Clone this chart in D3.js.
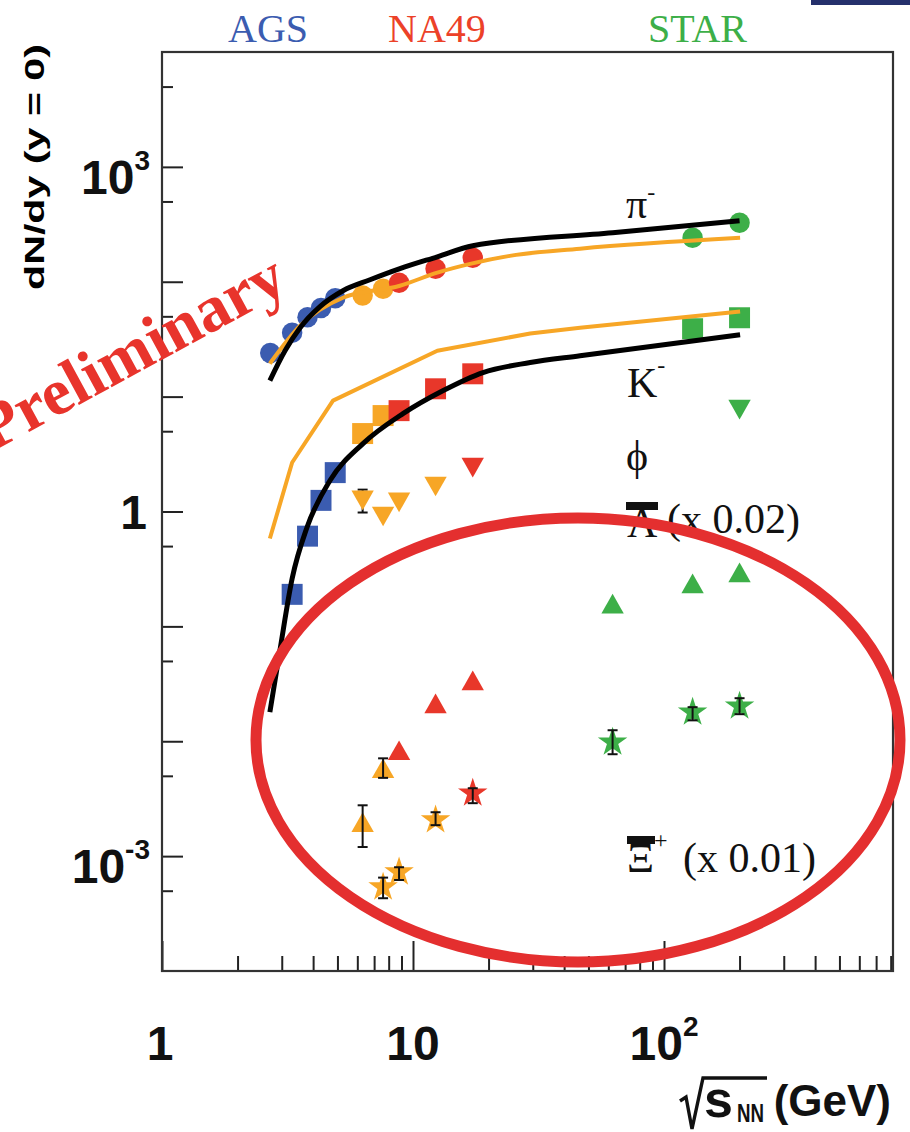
<!DOCTYPE html>
<html>
<head>
<meta charset="utf-8">
<script src="https://cdn.jsdelivr.net/npm/d3@7"></script>
<style>
  html, body { margin: 0; padding: 0; background: #fff; }
  svg { display: block; }
</style>
</head>
<body>
<svg id="chart" width="910" height="1132"></svg>
<script>
// ---- collision energies (sqrt(s_NN), GeV) ----
const snnAGS    = [2.7, 3.3, 3.8, 4.3, 4.9];
const snnAGSk   = [3.3, 3.8, 4.3, 4.9];
const snnNA49lo = [6.3, 7.6];
const snnNA49   = [8.8, 12.3, 17.3];
const snnSTAR   = [62.4, 130, 200];

// ---- pi- ----
const piAGS     = [24, 36, 49, 59, 72];
const piNA49lo  = [76, 87];
const piNA49    = [98, 130, 162];
const piSTARe   = [130, 200];
const piSTAR    = [241, 326];

// ---- K- ----
const kAGS      = [0.19, 0.61, 1.25, 2.18];
const kNA49lo   = [4.77, 6.84];
const kNA49     = [7.55, 11.7, 15.8];
const kSTARe    = [130, 200];
const kSTAR     = [39, 48.6];

// ---- phi ----
const phiNA49loE = [6.3, 7.6, 8.8, 12.3];
const phiNA49lo  = [1.25, 0.905, 1.20, 1.65];
const phiNA49E   = [17.3];
const phiNA49    = [2.41];
const phiSTARe   = [200];
const phiSTAR    = [7.7];

// ---- anti-Lambda (x 0.02) ----
const lamNA49lo = [1.98e-3, 5.82e-3];
const lamNA49   = [8.35e-3, 0.0214, 0.0339];
const lamSTAR   = [0.158, 0.237, 0.295];

// ---- anti-Xi+ (x 0.01) ----
const xiNA49loE = [7.6, 8.8, 12.3];
const xiNA49lo  = [5.37e-4, 7.26e-4, 2.06e-3];
const xiNA49E   = [17.3];
const xiNA49    = [3.53e-3];
const xiSTAR    = [9.8e-3, 0.0179, 0.0202];

// ---- error bars: [sqrt(s), low, high] ----
const errBarsUnder = [
  [6.3, 0.98, 1.55]
];
const errBars = [
  [6.3, 1.20e-3, 2.77e-3],
  [7.6, 4.8e-3, 7.1e-3],
  [7.6, 4.3e-4, 6.5e-4],
  [8.8, 6.2e-4, 8.0e-4],
  [12.3, 1.86e-3, 2.41e-3],
  [17.3, 2.89e-3, 3.90e-3],
  [62.4, 7.71e-3, 0.01247],
  [130, 0.0152, 0.0198],
  [200, 0.0172, 0.0237]
];

// ---- model curves ----
const piModelBlackE  = [2.69, 3.09, 3.55, 4.26, 5.26, 6.74, 8.87, 12.5, 17.3, 62.4, 200];
const piModelBlack   = [13.8, 25.1, 39.8, 60.7, 83.5, 104, 130, 165, 206, 267, 339];
const piModelOrangeE = [2.69, 3.55, 5.26, 8.87, 12.5, 16.9, 24.3, 46.3, 201];
const piModelOrange  = [19.4, 41.4, 72.6, 92.3, 120, 143, 168, 194, 241];
const kModelBlackE   = [2.69, 2.95, 3.30, 3.78, 4.67, 6.32, 9.12, 13.2, 19.0, 29.3, 46.3, 201];
const kModelBlack    = [0.0179, 0.0618, 0.261, 0.726, 1.86, 3.90, 7.11, 11.3, 16.2, 19.8, 22.7, 34.6];
const kModelOrangeE  = [2.69, 3.30, 4.80, 12.5, 29.3, 46.3, 201];
const kModelOrange   = [0.582, 2.67, 9.22, 25.1, 35.4, 39.8, 55.0];

// ---- axis ticks ----
const xMajorTicks = [1, 10, 100];
const xMinorTicks = [2,3,4,5,6,7,8,9,20,30,40,50,60,70,80,90,200,300,400,500,600,700,800];
const yMajorTicks = [1e-3, 1e-2, 1e-1, 1, 10, 100, 1e3];
const yMinorTicks = [5e-4, 5e-3, 5e-2, 0.5, 5, 50, 500, 5000];

// ---- colours ----
const cBlue = "#3b5cb0", cRed = "#e8372a", cOrange = "#f7a626", cGreen = "#3daf48";

const svg = d3.select("#chart");
const plotLeft = 162, plotRight = 893, plotTop = 52, plotBottom = 971;

const x = d3.scaleLog().domain([1, Math.pow(10, (plotRight - plotLeft) / 251)]).range([plotLeft, plotRight]);
const y = d3.scaleLog().domain([1e-4, 1e4]).range([plotBottom, plotTop]);

// top experiment labels
const serif = "'Liberation Serif', 'Times New Roman', serif";
const sans = "'Liberation Sans', Arial, Helvetica, sans-serif";
[["AGS", 228, cBlue], ["NA49", 388, "#ec4128"], ["STAR", 648, cGreen]].forEach(([t, tx, c]) => {
  svg.append("text").attr("x", tx).attr("y", 42).attr("font-family", serif)
    .attr("font-size", 40).attr("fill", c).text(t);
});
svg.append("rect").attr("x", 811).attr("y", 0).attr("width", 99).attr("height", 5).attr("fill", "#25306c");

// axes ticks (pointing into the frame)
function styleAxis(g) {
  g.select(".domain").remove();
  g.selectAll(".tick line").attr("stroke", "#222").attr("stroke-width", 2);
}
svg.append("g").attr("transform", `translate(0,${plotBottom})`)
  .call(d3.axisBottom(x).tickValues(xMinorTicks).tickSize(-15).tickFormat(""))
  .call(styleAxis);
svg.append("g").attr("transform", `translate(0,${plotBottom})`)
  .call(d3.axisBottom(x).tickValues(xMajorTicks).tickSize(-30).tickFormat(""))
  .call(styleAxis);
svg.append("g").attr("transform", `translate(${plotLeft},0)`)
  .call(d3.axisLeft(y).tickValues(yMinorTicks).tickSize(-11).tickFormat(""))
  .call(styleAxis);
svg.append("g").attr("transform", `translate(${plotLeft},0)`)
  .call(d3.axisLeft(y).tickValues(yMajorTicks).tickSize(-21).tickFormat(""))
  .call(styleAxis);

// frame
svg.append("rect").attr("x", plotLeft).attr("y", plotTop)
  .attr("width", plotRight - plotLeft).attr("height", plotBottom - plotTop)
  .attr("fill", "none").attr("stroke", "#333").attr("stroke-width", 2.2);

// tick labels
function powLabel(parent, px, py, base, exp, anchor) {
  const t = parent.append("text").attr("font-family", sans).attr("font-weight", "bold")
    .attr("font-size", 48).attr("fill", "#111").attr("text-anchor", anchor)
    .attr("x", px).attr("y", py);
  t.append("tspan").text(base);
  if (exp) t.append("tspan").attr("font-size", 28).attr("dy", -24).text(exp);
  return t;
}
powLabel(svg, 150, y(1e3) + 27, "10", "3", "end");
powLabel(svg, 147, y(1) + 17, "1", null, "end");
powLabel(svg, 150, y(1e-3) + 27, "10", "-3", "end");
powLabel(svg, x(1) - 2, 1060, "1", null, "middle");
powLabel(svg, x(10), 1060, "10", null, "middle");
powLabel(svg, x(100), 1060, "10", "2", "middle");

// y title
svg.append("text").attr("transform", "translate(44,167) rotate(-90)")
  .attr("font-family", sans).attr("font-weight", "bold").attr("font-size", 27)
  .attr("text-anchor", "middle").attr("textLength", 246).attr("lengthAdjust", "spacingAndGlyphs")
  .text("dN/dy (y = 0)");

// x title: sqrt(s_NN) (GeV)
svg.append("path").attr("d", "M680,1101 L686,1097 L692,1129 L703,1078 L767,1078")
  .attr("fill", "none").attr("stroke", "#111").attr("stroke-width", 3.4).attr("stroke-linejoin", "miter");
svg.append("text").attr("x", 704).attr("y", 1117).attr("font-family", sans).attr("font-weight", "bold")
  .attr("font-size", 52).attr("fill", "#111").text("s");
svg.append("text").attr("x", 737).attr("y", 1122).attr("font-family", sans).attr("font-weight", "bold")
  .attr("font-size", 26).attr("fill", "#111").attr("textLength", 27).attr("lengthAdjust", "spacingAndGlyphs").text("NN");
svg.append("text").attr("x", 891).attr("y", 1116).attr("font-family", sans).attr("font-weight", "bold")
  .attr("font-size", 44).attr("fill", "#111").attr("text-anchor", "end").text("(GeV)");

// "Preliminary" stamp
svg.append("text").attr("transform", "translate(-8,452) rotate(-28.5)")
  .attr("font-family", serif).attr("font-weight", "bold").attr("font-size", 66)
  .attr("fill", "#e8342c").text("Preliminary");

// particle labels
function partLabel(px, py, main, sup, supDy) {
  const t = svg.append("text").attr("x", px).attr("y", py).attr("font-family", serif)
    .attr("font-size", 42).attr("fill", "#111");
  t.append("tspan").text(main);
  if (sup) t.append("tspan").attr("font-size", 24).attr("dy", supDy).text(sup);
}
partLabel(626, 218, "\u03c0", "-", -18);
partLabel(627, 397, "K", "-", -24);
partLabel(626, 470, "\u03d5", null);
partLabel(627, 537, "\u039b", null);
svg.append("rect").attr("x", 626).attr("y", 502).attr("width", 32).attr("height", 8).attr("fill", "#111");
partLabel(667, 533, "(x 0.02)", null);
partLabel(627, 872, "\u039e", "+", -24);
svg.append("rect").attr("x", 627).attr("y", 836).attr("width", 28).attr("height", 8).attr("fill", "#111");
partLabel(683, 872, "(x 0.01)", null);

// marker shapes centred on their bounding boxes
const triUp = { draw(ctx, size) { const s = Math.sqrt(size); const h = s * 0.88;
  ctx.moveTo(0, -h / 2); ctx.lineTo(s / 2, h / 2); ctx.lineTo(-s / 2, h / 2); ctx.closePath(); } };
const triDown = { draw(ctx, size) { const s = Math.sqrt(size); const h = s * 0.88;
  ctx.moveTo(0, h / 2); ctx.lineTo(s / 2, -h / 2); ctx.lineTo(-s / 2, -h / 2); ctx.closePath(); } };

const markerDefs = {
  circle: d3.symbol().type(d3.symbolCircle).size(330),
  square: d3.symbol().type(d3.symbolSquare).size(440),
  up:     d3.symbol().type(triUp).size(500),
  down:   d3.symbol().type(triDown).size(500),
  star:   d3.symbol().type(d3.symbolStar).size(270)
};

const series = [
  { e: snnAGS,    v: piAGS,     m: "circle", c: cBlue },
  { e: snnNA49lo, v: piNA49lo,  m: "circle", c: cOrange },
  { e: snnNA49,   v: piNA49,    m: "circle", c: cRed },
  { e: piSTARe,   v: piSTAR,    m: "circle", c: cGreen },
  { e: snnAGSk,   v: kAGS,      m: "square", c: cBlue },
  { e: snnNA49lo, v: kNA49lo,   m: "square", c: cOrange },
  { e: snnNA49,   v: kNA49,     m: "square", c: cRed },
  { e: kSTARe,    v: kSTAR,     m: "square", c: cGreen },
  { e: phiNA49loE, v: phiNA49lo, m: "down", c: cOrange },
  { e: phiNA49E,  v: phiNA49,   m: "down",   c: cRed },
  { e: phiSTARe,  v: phiSTAR,   m: "down",   c: cGreen },
  { e: snnNA49lo, v: lamNA49lo, m: "up",     c: cOrange },
  { e: snnNA49,   v: lamNA49,   m: "up",     c: cRed },
  { e: snnSTAR,   v: lamSTAR,   m: "up",     c: cGreen },
  { e: xiNA49loE, v: xiNA49lo,  m: "star",   c: cOrange },
  { e: xiNA49E,   v: xiNA49,    m: "star",   c: cRed },
  { e: snnSTAR,   v: xiSTAR,    m: "star",   c: cGreen }
];

function drawErrors(list) {
  const g = svg.append("g").attr("stroke", "#111").attr("stroke-width", 2);
  list.forEach(([e, lo, hi]) => {
    const cx = x(e);
    g.append("line").attr("x1", cx).attr("x2", cx).attr("y1", y(lo)).attr("y2", y(hi));
    g.append("line").attr("x1", cx - 5).attr("x2", cx + 5).attr("y1", y(lo)).attr("y2", y(lo));
    g.append("line").attr("x1", cx - 5).attr("x2", cx + 5).attr("y1", y(hi)).attr("y2", y(hi));
  });
}

drawErrors(errBarsUnder);

const gMarks = svg.append("g");
series.forEach(s => {
  gMarks.selectAll(null).data(d3.zip(s.e, s.v)).join("path")
    .attr("transform", d => `translate(${x(d[0])},${y(d[1])})`)
    .attr("d", markerDefs[s.m]).attr("fill", s.c);
});

drawErrors(errBars);

// model curves
const curveLine = (curve) => d3.line().x(d => x(d[0])).y(d => y(d[1])).curve(curve);
const models = [
  { e: piModelOrangeE, v: piModelOrange, c: cOrange, w: 4, curve: d3.curveMonotoneX },
  { e: kModelOrangeE,  v: kModelOrange,  c: cOrange, w: 4, curve: d3.curveLinear },
  { e: piModelBlackE,  v: piModelBlack,  c: "#000",  w: 5, curve: d3.curveMonotoneX },
  { e: kModelBlackE,   v: kModelBlack,   c: "#000",  w: 5, curve: d3.curveMonotoneX }
];
models.forEach(m => {
  svg.append("path").attr("d", curveLine(m.curve)(d3.zip(m.e, m.v)))
    .attr("fill", "none").attr("stroke", m.c).attr("stroke-width", m.w)
    .attr("stroke-linejoin", "round");
});

// highlight ring around the strange-baryon points
svg.append("ellipse").attr("cx", 578).attr("cy", 740).attr("rx", 322).attr("ry", 222)
  .attr("fill", "none").attr("stroke", "#e42f2f").attr("stroke-width", 11);
</script>
</body>
</html>
